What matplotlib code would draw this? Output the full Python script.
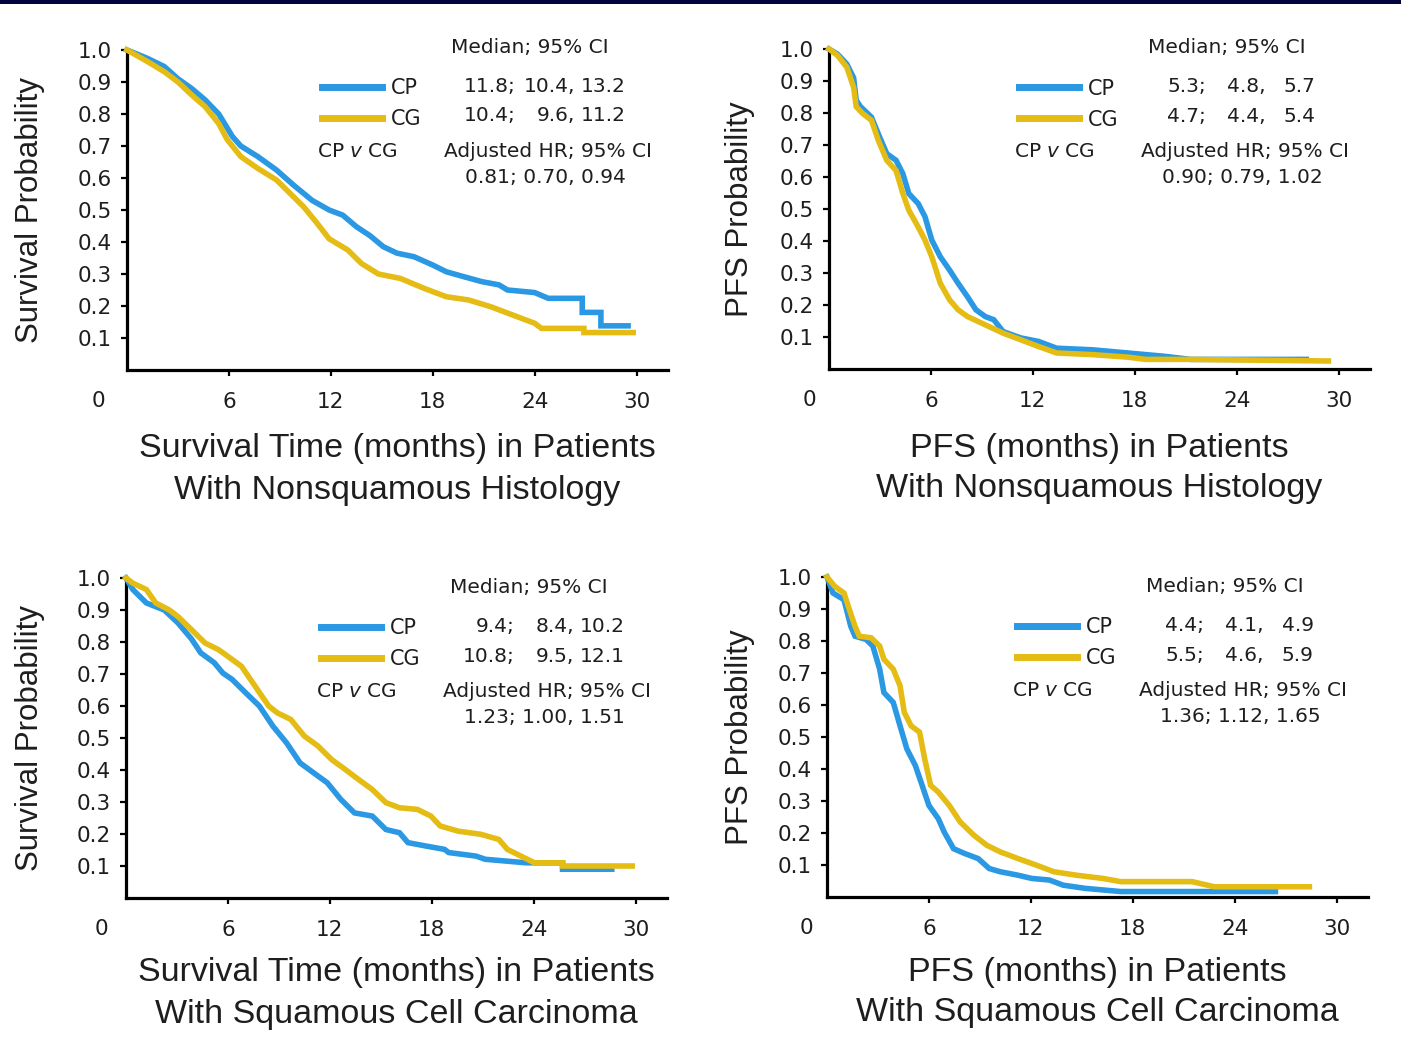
import matplotlib
matplotlib.use("Agg")
import matplotlib.pyplot as plt
from matplotlib.patches import Rectangle

# ---------------------------------------------------------------------------
# Data
# ---------------------------------------------------------------------------
# OS, nonsquamous
os_nsq_cp_t = [0, 1.2, 2.2, 3.0, 3.8, 4.6, 5.4, 6.2, 6.7, 7.7, 8.8, 9.8, 10.9, 11.9, 12.7, 13.5,
               14.3, 15.1, 15.9, 16.9, 18.0, 18.8, 19.8, 20.9, 21.9, 22.4, 24.0, 24.8, 26.8, 26.8,
               27.9, 27.9, 29.5]
os_nsq_cp_s = [1.0, 0.974, 0.948, 0.91, 0.88, 0.844, 0.80, 0.73, 0.70, 0.667, 0.625, 0.578, 0.53,
               0.50, 0.484, 0.448, 0.42, 0.385, 0.365, 0.354, 0.328, 0.307, 0.292, 0.276, 0.266,
               0.25, 0.242, 0.224, 0.224, 0.18, 0.18, 0.138, 0.138]
os_nsq_cg_t = [0, 1.2, 2.2, 3.0, 3.8, 4.6, 5.4, 5.9, 6.7, 7.7, 8.8, 9.6, 10.4, 11.2, 11.9, 13.0,
               13.8, 14.8, 16.1, 17.5, 18.8, 20.1, 21.4, 22.7, 24.0, 24.4, 26.9, 26.9, 29.8]
os_nsq_cg_s = [1.0, 0.964, 0.932, 0.90, 0.86, 0.823, 0.77, 0.72, 0.667, 0.63, 0.594, 0.552, 0.51,
               0.458, 0.41, 0.375, 0.333, 0.30, 0.286, 0.255, 0.229, 0.219, 0.198, 0.172, 0.146,
               0.13, 0.13, 0.117, 0.117]

# PFS, nonsquamous
pfs_nsq_cp_t = [0, 0.5, 1.05, 1.45, 1.6, 1.85, 2.5, 2.9, 3.4, 3.95, 4.35, 4.7, 5.25, 5.65, 6.05,
                6.55, 7.1, 7.6, 8.15, 8.65, 9.2, 9.7, 10.25, 11.3, 12.35, 13.4, 15.5, 17.6, 19.7,
                21.3, 28.1]
pfs_nsq_cp_s = [1.0, 0.984, 0.953, 0.91, 0.84, 0.82, 0.787, 0.735, 0.673, 0.652, 0.61, 0.548,
                0.517, 0.476, 0.403, 0.351, 0.309, 0.268, 0.226, 0.185, 0.164, 0.154, 0.117,
                0.097, 0.086, 0.065, 0.06, 0.05, 0.04, 0.03, 0.03]
pfs_nsq_cg_t = [0, 0.5, 1.05, 1.45, 1.6, 1.95, 2.5, 2.9, 3.4, 3.95, 4.35, 4.7, 5.25, 5.65, 6.05,
                6.55, 7.1, 7.6, 8.15, 9.2, 10.25, 11.3, 12.35, 13.4, 15.5, 17.6, 18.65, 21.3, 29.4]
pfs_nsq_cg_s = [1.0, 0.98, 0.943, 0.88, 0.82, 0.80, 0.777, 0.715, 0.652, 0.62, 0.548, 0.496,
                0.444, 0.403, 0.351, 0.268, 0.216, 0.185, 0.164, 0.138, 0.112, 0.091, 0.07,
                0.05, 0.045, 0.037, 0.03, 0.03, 0.025]

# OS, squamous
os_sq_cp_t = [0, 0.4, 1.2, 2.25, 3.05, 3.85, 4.4, 5.2, 5.7, 6.25, 7.05, 7.85, 8.65, 9.45, 10.25,
              11.05, 11.85, 12.65, 13.45, 14.5, 15.3, 16.1, 16.6, 17.7, 18.75, 19.0, 20.6, 21.15,
              23.55, 25.7, 25.7, 28.6]
os_sq_cp_s = [1.0, 0.964, 0.922, 0.90, 0.86, 0.81, 0.766, 0.735, 0.703, 0.683, 0.641, 0.60,
              0.537, 0.485, 0.422, 0.391, 0.36, 0.308, 0.266, 0.256, 0.214, 0.204, 0.173, 0.162,
              0.152, 0.142, 0.131, 0.121, 0.11, 0.11, 0.09, 0.09]
os_sq_cg_t = [0, 0.4, 1.2, 1.75, 2.55, 3.05, 3.85, 4.65, 5.45, 6.0, 6.8, 7.6, 8.4, 8.9, 9.7, 10.5,
              11.3, 12.1, 12.9, 13.7, 14.5, 15.3, 16.1, 17.15, 17.95, 18.5, 19.55, 20.9, 21.95,
              22.45, 23.25, 24.05, 25.7, 25.7, 29.8]
os_sq_cg_s = [1.0, 0.984, 0.964, 0.922, 0.90, 0.88, 0.839, 0.797, 0.776, 0.755, 0.724, 0.662,
              0.60, 0.579, 0.558, 0.506, 0.475, 0.433, 0.402, 0.37, 0.339, 0.298, 0.282, 0.277,
              0.256, 0.225, 0.209, 0.199, 0.183, 0.152, 0.131, 0.11, 0.11, 0.10, 0.10]

# PFS, squamous
pfs_sq_cp_t = [0, 0.35, 1.0, 1.4, 1.65, 2.3, 2.7, 3.1, 3.35, 3.9, 4.3, 4.7, 5.2, 5.6, 6.0, 6.55,
               6.9, 7.45, 8.1, 8.9, 9.55, 10.2, 11.25, 12.05, 13.1, 13.9, 15.2, 16.25, 17.3, 26.4]
pfs_sq_cp_s = [1.0, 0.95, 0.929, 0.846, 0.815, 0.805, 0.784, 0.712, 0.639, 0.608, 0.535, 0.463,
               0.411, 0.349, 0.286, 0.245, 0.203, 0.151, 0.136, 0.12, 0.089, 0.079, 0.068,
               0.058, 0.053, 0.037, 0.027, 0.022, 0.017, 0.017]
pfs_sq_cg_t = [0, 0.45, 1.0, 1.25, 1.65, 1.9, 2.6, 3.1, 3.35, 3.9, 4.3, 4.55, 4.95, 5.45, 5.75,
               6.1, 6.55, 7.2, 7.85, 8.65, 9.4, 10.2, 11.25, 12.3, 13.35, 14.7, 16.25, 17.3,
               21.5, 22.8, 28.4]
pfs_sq_cg_s = [1.0, 0.971, 0.95, 0.909, 0.846, 0.815, 0.81, 0.784, 0.743, 0.712, 0.66, 0.577,
               0.535, 0.515, 0.432, 0.349, 0.328, 0.286, 0.234, 0.193, 0.162, 0.141, 0.12, 0.10,
               0.079, 0.068, 0.058, 0.048, 0.048, 0.032, 0.032]

# Median; 95% CI per panel (order: OS nonsq, PFS nonsq, OS sq, PFS sq)
cp_median = ["11.8;", "5.3;", "9.4;", "4.4;"]
cp_ci_low = ["10.4,", "4.8,", "8.4,", "4.1,"]
cp_ci_high = ["13.2", "5.7", "10.2", "4.9"]
cg_median = ["10.4;", "4.7;", "10.8;", "5.5;"]
cg_ci_low = ["9.6,", "4.4,", "9.5,", "4.6,"]
cg_ci_high = ["11.2", "5.4", "12.1", "5.9"]
hr_text = ["0.81; 0.70, 0.94", "0.90; 0.79, 1.02", "1.23; 1.00, 1.51", "1.36; 1.12, 1.65"]

y_titles = ["Survival Probability", "PFS Probability", "Survival Probability", "PFS Probability"]
x_titles = [
    "Survival Time (months) in Patients\nWith Nonsquamous Histology",
    "PFS (months) in Patients\nWith Nonsquamous Histology",
    "Survival Time (months) in Patients\nWith Squamous Cell Carcinoma",
    "PFS (months) in Patients\nWith Squamous Cell Carcinoma",
]
x_ticks = [6, 12, 18, 24, 30]
y_ticks = [0.1, 0.2, 0.3, 0.4, 0.5, 0.6, 0.7, 0.8, 0.9, 1.0]

curves = [
    (os_nsq_cp_t, os_nsq_cp_s, os_nsq_cg_t, os_nsq_cg_s),
    (pfs_nsq_cp_t, pfs_nsq_cp_s, pfs_nsq_cg_t, pfs_nsq_cg_s),
    (os_sq_cp_t, os_sq_cp_s, os_sq_cg_t, os_sq_cg_s),
    (pfs_sq_cp_t, pfs_sq_cp_s, pfs_sq_cg_t, pfs_sq_cg_s),
]

# ---------------------------------------------------------------------------
# Style
# ---------------------------------------------------------------------------
BLUE = "#2A98E2"
GOLD = "#E4BC14"
TXT = "#1E1E1E"
LABEL_FONT = ["Liberation Sans", "DejaVu Sans"]
plt.rcParams["font.family"] = ["DejaVu Sans"]
plt.rcParams["mathtext.fontset"] = "dejavusans"

W, H = 1401, 1056
fig = plt.figure(figsize=(W / 100, H / 100), dpi=100)
fig.patches.append(Rectangle((0, 1 - 4 / H), 1, 4 / H, transform=fig.transFigure,
                             facecolor="#03033F", edgecolor="none"))

# axes placement in pixels: (x of origin, y of x-axis)
origins = [(127, 370), (829, 369), (126, 898), (827, 897)]
AX_W, AX_H = 541, 320
zero_dx = [-29, -20, -25, -21]
ylab_x = [30, 740, 30, 740]
ann_dy = [0.0, -0.005, -0.038, -0.038]
ann_dx = [0.0, -0.3, 0.0, -0.3]
col_dx = [0.0, -0.7, 0.0, -0.7]
xlab_dy = [79, 79, 75, 75]

for i, (cp_t, cp_s, cg_t, cg_s) in enumerate(curves):
    ox, oy = origins[i]
    ax = fig.add_axes([ox / W, (H - oy) / H, AX_W / W, AX_H / H])
    ax.set_xlim(0, 31.85)
    ax.set_ylim(0, 1.0)

    ax.plot(cp_t, cp_s, color=BLUE, lw=4.0, solid_joinstyle="miter", clip_on=False,
            zorder=3, label="CP")
    ax.plot(cg_t, cg_s, color=GOLD, lw=4.0, solid_joinstyle="miter", clip_on=False,
            zorder=4, label="CG")

    for side in ["top", "right"]:
        ax.spines[side].set_visible(False)
    for side in ["left", "bottom"]:
        ax.spines[side].set_linewidth(2.3)
        ax.spines[side].set_color("black")

    ax.set_xticks(x_ticks)
    ax.set_xticklabels([str(v) for v in x_ticks])
    ax.set_yticks(y_ticks)
    ax.set_yticklabels([f"{v:.1f}" for v in y_ticks])
    ax.tick_params(axis="both", direction="out", length=4.5, width=1.6, colors="black",
                   labelsize=15.5, labelcolor=TXT)
    ax.tick_params(axis="x", pad=11)
    ax.tick_params(axis="y", pad=6.5)

    # origin label
    ax.annotate("0", xy=(0, 0), xycoords="data", xytext=(zero_dx[i] * 0.72, -31 * 0.72),
                textcoords="offset points", ha="center", va="center", fontsize=15.5, color=TXT)

    # axis titles
    ax.text((ylab_x[i] - ox) / AX_W, 0.5, y_titles[i], transform=ax.transAxes, rotation=90,
            ha="center", va="center", fontsize=22.5, family=LABEL_FONT, color=TXT)
    l1, l2 = x_titles[i].split("\n")
    ax.text(0.5, -xlab_dy[i] / AX_H, l1, transform=ax.transAxes, ha="center", va="center",
            fontsize=24.5, family=LABEL_FONT, color=TXT)
    ax.text(0.5, -(xlab_dy[i] + 41) / AX_H, l2, transform=ax.transAxes, ha="center",
            va="center", fontsize=24.5, family=LABEL_FONT, color=TXT)

    # median / HR block
    dy, dx, cdx = ann_dy[i], ann_dx[i], col_dx[i]
    fs = 14.5
    ax.text(23.7 + dx, 1.009 + dy, "Median; 95% CI", ha="center", va="center", fontsize=fs,
            color=TXT, clip_on=False)
    leg = ax.legend(loc="upper left", bbox_to_anchor=(0.36 + dx / 31.85, 0.912 + dy),
                    frameon=False, fontsize=15, handlelength=2.9, handletextpad=0.4,
                    labelspacing=0.52, borderpad=0, borderaxespad=0)
    for line in leg.get_lines():
        line.set_linewidth(5)
    for t in leg.get_texts():
        t.set_color(TXT)
    for row, (yy, a, b, c) in enumerate([(0.8875, cp_median[i], cp_ci_low[i], cp_ci_high[i]),
                                         (0.794, cg_median[i], cg_ci_low[i], cg_ci_high[i])]):
        for xx, s in zip([22.9, 26.4, 29.35], [a, b, c]):
            ax.text(xx + cdx, yy + dy, s, ha="right", va="center", fontsize=fs, color=TXT)
    ax.text(11.2 + dx, 0.684 + dy, r"CP $\mathit{v}$ CG", ha="left", va="center", fontsize=fs,
            color=TXT)
    ax.text(24.8 + dx, 0.684 + dy, "Adjusted HR; 95% CI", ha="center", va="center",
            fontsize=fs, color=TXT)
    ax.text(24.65 + dx, 0.603 + dy, hr_text[i], ha="center", va="center", fontsize=fs,
            color=TXT)

fig.savefig("out.png", dpi=100, facecolor="white")
